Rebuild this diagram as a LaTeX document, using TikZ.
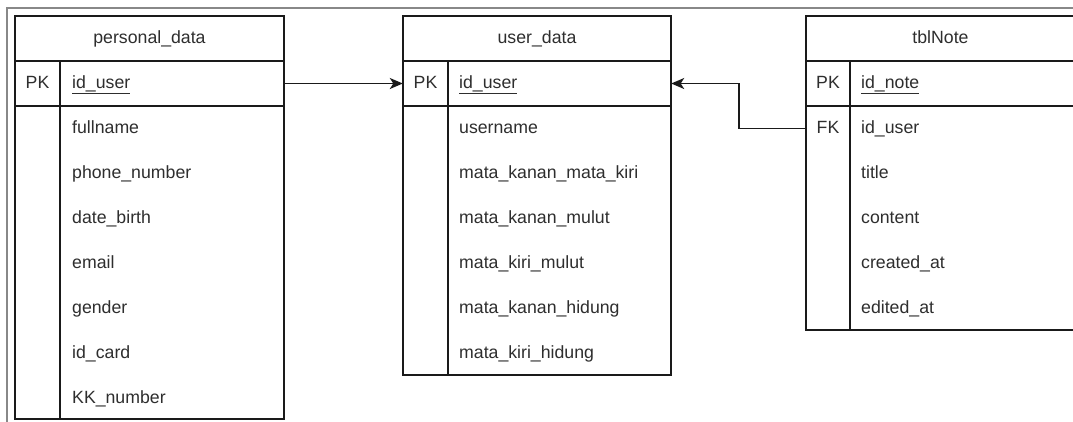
\documentclass[tikz,border=0pt]{standalone}
\usepackage{fontspec}
\setmainfont{Liberation Sans}
\usetikzlibrary{arrows.meta}
\definecolor{linec}{HTML}{1A1A1A}
\definecolor{txt}{HTML}{2E2E2E}
\definecolor{framec}{HTML}{888888}
\tikzset{
  tline/.style={draw=linec, line width=1.6pt},
  rowbox/.style={minimum width=269pt, minimum height=45pt, inner sep=0pt},
  lbl/.style={text=txt, inner sep=0pt, font=\fontsize{17.7pt}{20pt}\selectfont, text height=12.6pt, text depth=3.6pt},
  fld/.style={lbl, anchor=west},
  link/.style={draw=linec, line width=1.6pt, -{Stealth[length=13pt, width=11pt, inset=3.5pt]}},
}
\begin{document}
\begin{tikzpicture}[x=1pt, y=-1pt]
\useasboundingbox (0,0) rectangle (1073,421);
\clip (0,0) rectangle (1073,421);
\fill[white] (0,0) rectangle (1073,421);

% outer frame
\draw[framec, line width=2pt] (7,440) -- (7,7.5) -- (1090,7.5);

% ---- personal_data ----
\draw[tline] (15,16) rectangle (284,419);
\draw[tline] (15,61) -- (284,61) (15,106) -- (284,106) (60,61) -- (60,419);
\node[rowbox] (pdpk) at (149.5,83.5) {};
\node[lbl] (pdt) at (149.5,38.5) {personal\_data};
\node[lbl] (pdk) at (37.5,83.5) {PK};
\node[fld] (pd0) at (72,83.5) {\underline{id\_user}};
\node[fld] (pd1) at (72,128.5) {fullname};
\node[fld] (pd2) at (72,173.5) {phone\_number};
\node[fld] (pd3) at (72,218.5) {date\_birth};
\node[fld] (pd4) at (72,263.5) {email};
\node[fld] (pd5) at (72,308.5) {gender};
\node[fld] (pd6) at (72,353.5) {id\_card};
\node[fld] (pd7) at (72,398.5) {KK\_number};

% ---- user_data ----
\draw[tline] (403,16) rectangle (671,375);
\draw[tline] (403,61) -- (671,61) (403,106) -- (671,106) (448,61) -- (448,375);
\node[rowbox, minimum width=268pt] (udpk) at (537,83.5) {};
\node[lbl] (udt) at (537,38.5) {user\_data};
\node[lbl] (udk) at (425.5,83.5) {PK};
\node[fld] (ud0) at (459,83.5) {\underline{id\_user}};
\node[fld] (ud1) at (459,128.5) {username};
\node[fld] (ud2) at (459,173.5) {mata\_kanan\_mata\_kiri};
\node[fld] (ud3) at (459,218.5) {mata\_kanan\_mulut};
\node[fld] (ud4) at (459,263.5) {mata\_kiri\_mulut};
\node[fld] (ud5) at (459,308.5) {mata\_kanan\_hidung};
\node[fld] (ud6) at (459,353.5) {mata\_kiri\_hidung};

% ---- tblNote (runs past the right edge) ----
\draw[tline] (1090,16) -- (806,16) -- (806,330) -- (1090,330);
\draw[tline] (806,61) -- (1090,61) (806,106) -- (1090,106) (850,61) -- (850,330);
\node[rowbox] (tnfk) at (940.5,128.5) {};
\node[lbl] (tnt) at (940.5,38.5) {tblNote};
\node[lbl] (tnk) at (828,83.5) {PK};
\node[lbl] (tnf) at (828,128.5) {FK};
\node[fld] (tn0) at (861,83.5) {\underline{id\_note}};
\node[fld] (tn1) at (861,128.5) {id\_user};
\node[fld] (tn2) at (861,173.5) {title};
\node[fld] (tn3) at (861,218.5) {content};
\node[fld] (tn4) at (861,263.5) {created\_at};
\node[fld] (tn5) at (861,308.5) {edited\_at};

% ---- relations ----
\draw[link] (pdpk.east) -- (udpk.west);
\draw[link] (tnfk.west) -- ++(-67,0) |- (udpk.east);
\end{tikzpicture}
\end{document}
